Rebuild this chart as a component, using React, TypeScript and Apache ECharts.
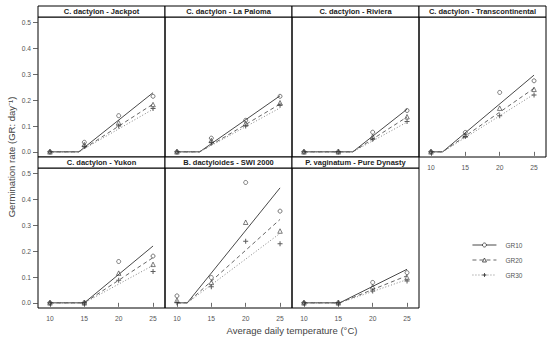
import React, { useEffect, useRef } from "react";
import * as echarts from "echarts";

// ---- data ----
const temps = [10, 15, 20, 25];
const panelTitles = [
  "C. dactylon - Jackpot",
  "C. dactylon - La Paloma",
  "C. dactylon - Riviera",
  "C. dactylon - Transcontinental",
  "C. dactylon - Yukon",
  "B. dactyloides - SWI 2000",
  "P. vaginatum - Pure Dynasty",
];
const gr10Obs = [
  [0, 0.037, 0.14, 0.215],
  [0, 0.053, 0.122, 0.215],
  [0, 0, 0.076, 0.16],
  [0, 0.075, 0.23, 0.275],
  [0, 0, 0.16, 0.181],
  [0.027, 0.098, 0.466, 0.355],
  [0, 0, 0.079, 0.117],
];
const gr20Obs = [
  [0, 0.028, 0.113, 0.183],
  [0, 0.044, 0.11, 0.19],
  [0, 0, 0.059, 0.136],
  [0, 0.065, 0.169, 0.242],
  [0, 0, 0.115, 0.149],
  [0.01, 0.079, 0.312, 0.278],
  [0, 0, 0.062, 0.098],
];
const gr30Obs = [
  [0, 0.022, 0.1, 0.168],
  [0, 0.037, 0.1, 0.18],
  [0, 0, 0.049, 0.117],
  [0, 0.059, 0.14, 0.22],
  [0, 0, 0.087, 0.121],
  [0, 0.062, 0.238, 0.229],
  [0, 0, 0.046, 0.085],
];
// fitted base temperature (x where rate leaves zero) and fitted rate at 25 °C
const baseTemps = [14.2, 13.3, 17.1, 11.7, 15.0, 11.5, 15.2];
const gr10Fit25 = [0.229, 0.217, 0.165, 0.297, 0.22, 0.445, 0.13];
const gr20Fit25 = [0.185, 0.185, 0.135, 0.246, 0.175, 0.323, 0.105];
const gr30Fit25 = [0.165, 0.17, 0.115, 0.223, 0.145, 0.269, 0.09];
const yTicks = [0, 0.1, 0.2, 0.3, 0.4, 0.5];
const xTicks = [10, 15, 20, 25];
const seriesNames = ["GR10", "GR20", "GR30"];

// ---- styling / layout ----
const FONT = "Liberation Sans, Arial, Helvetica, sans-serif";
const PLUS = "path://M4,0h2v4h4v2h-4v4h-2v-4h-4v-2h4z";
const symbols = ["circle", "triangle", PLUS];
const symbolSizes = [4, 4.5, 5];
const lineColors = ["#333", "#555", "#777"];
const lineTypes: any[] = ["solid", [4, 3], [1, 2]];
const MARK = "#333";
const TICK_TEXT = "#555";
const COL_LEFT = 38;
const COL_W = 127;
const ROW_TOP = [17, 168];
const PLOT_H = 140;
const STRIP_H = 11;

const markStyle = (g: number, hollowFill: string) =>
  g === 2
    ? { color: MARK, borderWidth: 0 }
    : { color: hollowFill, borderColor: MARK, borderWidth: 0.8 };

export default function App() {
  const ref = useRef<HTMLDivElement>(null);
  useEffect(() => {
    document.body.style.margin = "0";
    if (!ref.current) return;
    const chart = echarts.init(ref.current, null, { renderer: "svg" });

    const grids: any[] = [];
    const xAxes: any[] = [];
    const yAxes: any[] = [];
    const series: any[] = [];
    const graphics: any[] = [];

    const obsSets = [gr10Obs, gr20Obs, gr30Obs];
    const fitSets = [gr10Fit25, gr20Fit25, gr30Fit25];

    panelTitles.forEach((title, p) => {
      const row = p < 4 ? 0 : 1;
      const col = p < 4 ? p : p - 4;
      const left = COL_LEFT + col * COL_W;
      const top = ROW_TOP[row];
      grids.push({
        left,
        top,
        width: COL_W,
        height: PLOT_H,
        show: true,
        borderColor: "#000",
        borderWidth: 1,
        backgroundColor: "transparent",
        containLabel: false,
      });
      const showX = p >= 3;
      const showY = col === 0;
      xAxes.push({
        type: "value",
        gridIndex: p,
        min: 8.26,
        max: 26.74,
        axisLine: { show: false },
        splitLine: { show: false },
        axisTick: {
          show: showX,
          length: 4,
          customValues: xTicks,
          lineStyle: { color: "#444", width: 0.8 },
        },
        axisLabel: {
          show: showX,
          customValues: xTicks,
          margin: 7,
          fontSize: 6.7,
          color: TICK_TEXT,
          fontFamily: FONT,
        },
      });
      yAxes.push({
        type: "value",
        gridIndex: p,
        min: -0.02,
        max: 0.522,
        axisLine: { show: false },
        splitLine: { show: false },
        axisTick: {
          show: showY,
          length: 5,
          customValues: yTicks,
          lineStyle: { color: "#444", width: 0.8 },
        },
        axisLabel: {
          show: showY,
          customValues: yTicks,
          margin: 7,
          fontSize: 6.7,
          color: TICK_TEXT,
          fontFamily: FONT,
          formatter: (v: number) => v.toFixed(1),
        },
      });
      graphics.push({
        type: "rect",
        shape: { x: left, y: top - STRIP_H, width: COL_W, height: STRIP_H },
        style: { fill: "#fff", stroke: "#000", lineWidth: 1 },
        z: 10,
      });
      graphics.push({
        type: "text",
        x: left + COL_W / 2,
        y: top - STRIP_H / 2,
        style: {
          text: title,
          fontSize: 7.5,
          fontWeight: "bold",
          fontFamily: FONT,
          fill: "#222",
          align: "center",
          verticalAlign: "middle",
        },
        z: 11,
      });
    });

    // fitted lines first (so the legend takes its icons from them)
    seriesNames.forEach((name, g) => {
      panelTitles.forEach((_, p) => {
        series.push({
          type: "line",
          name,
          xAxisIndex: p,
          yAxisIndex: p,
          data: [
            [temps[0], 0],
            [baseTemps[p], 0],
            [temps[3], fitSets[g][p]],
          ],
          showSymbol: false,
          symbol: symbols[g],
          symbolSize: symbolSizes[g],
          lineStyle: { color: lineColors[g], width: 0.9, type: lineTypes[g] },
          itemStyle: markStyle(g, "#fff"),
          silent: true,
          z: 2,
        });
      });
    });
    seriesNames.forEach((name, g) => {
      panelTitles.forEach((_, p) => {
        series.push({
          type: "scatter",
          name: name + " obs",
          xAxisIndex: p,
          yAxisIndex: p,
          data: temps.map((t, i) => [t, obsSets[g][p][i]]),
          symbol: symbols[g],
          symbolSize: symbolSizes[g],
          itemStyle: markStyle(g, "transparent"),
          silent: true,
          z: 3,
        });
      });
    });

    graphics.push({
      type: "text",
      x: 11,
      y: 157,
      rotation: Math.PI / 2,
      style: {
        text: "Germination rate (GR: day⁻¹)",
        fontSize: 9.5,
        fontFamily: FONT,
        fill: "#444",
        align: "center",
        verticalAlign: "middle",
      },
    });
    graphics.push({
      type: "text",
      x: 292,
      y: 330,
      style: {
        text: "Average daily temperature (°C)",
        fontSize: 9.5,
        fontFamily: FONT,
        fill: "#444",
        align: "center",
        verticalAlign: "middle",
      },
    });

    chart.setOption({
      animation: false,
      backgroundColor: "#fff",
      grid: grids,
      xAxis: xAxes,
      yAxis: yAxes,
      series,
      graphic: graphics,
      legend: {
        data: seriesNames.map((name, g) => ({
          name,
          itemStyle: markStyle(g, "#fff"),
          lineStyle: { color: lineColors[g], width: 0.9, type: lineTypes[g] },
        })),
        orient: "vertical",
        left: 467,
        top: 236.5,
        itemWidth: 24,
        itemHeight: 5,
        itemGap: 8,
        selectedMode: false,
        textStyle: {
          fontSize: 6.5,
          color: "#555",
          fontFamily: FONT,
          padding: [0, 0, 0, 4],
        },
      },
    });
    return () => chart.dispose();
  }, []);
  return <div ref={ref} style={{ width: 550, height: 344 }} />;
}
